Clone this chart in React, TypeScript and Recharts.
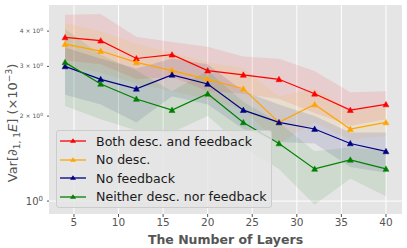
import { ComposedChart, Line, Area, XAxis, YAxis, CartesianGrid, Label } from 'recharts';

const layers = [4, 8, 12, 16, 20, 24, 28, 32, 36, 40];

const both = [3.8, 3.7, 3.2, 3.3, 2.9, 2.8, 2.7, 2.4, 2.1, 2.2];
const bothLow = [3.15, 3.05, 2.7, 2.75, 2.45, 2.4, 2.3, 2.05, 1.85, 1.95];
const bothHigh = [4.57, 4.6, 3.82, 3.66, 3.52, 3.25, 3.19, 2.89, 2.43, 2.45];

const noDesc = [3.6, 3.4, 3.1, 2.9, 2.7, 2.5, 1.9, 2.2, 1.8, 1.9];
const noDescLow = [3.0, 2.85, 2.6, 2.45, 2.3, 2.1, 1.6, 1.9, 1.65, 1.7];
const noDescHigh = [4.27, 4.0, 3.6, 3.35, 3.1, 2.95, 2.35, 2.5, 2.1, 2.15];

const noFeedback = [3.0, 2.7, 2.5, 2.8, 2.6, 2.1, 1.9, 1.8, 1.6, 1.5];
const noFeedbackLow = [2.38, 2.2, 1.9, 2.35, 2.2, 1.8, 1.62, 1.6, 1.32, 1.26];
const noFeedbackHigh = [3.5, 3.2, 2.95, 3.2, 3.05, 2.45, 2.2, 2.0, 1.75, 1.75];

const neither = [3.1, 2.6, 2.3, 2.1, 2.4, 1.9, 1.6, 1.3, 1.4, 1.3];
const neitherLow = [2.17, 1.95, 1.78, 1.75, 2.0, 1.55, 1.3, 0.97, 1.2, 1.04];
const neitherHigh = [4.07, 3.3, 2.9, 2.45, 2.9, 2.25, 1.9, 1.5, 1.55, 1.5];

const xTicks = [5, 10, 15, 20, 25, 30, 35, 40];
const yTicks = [1, 2, 3, 4];

const series = [
  { key: 'both', name: 'Both desc. and feedback', color: '#ff0000', mid: both, low: bothLow, high: bothHigh },
  { key: 'noDesc', name: 'No desc.', color: '#ffa500', mid: noDesc, low: noDescLow, high: noDescHigh },
  { key: 'noFeedback', name: 'No feedback', color: '#000080', mid: noFeedback, low: noFeedbackLow, high: noFeedbackHigh },
  { key: 'neither', name: 'Neither desc. nor feedback', color: '#008000', mid: neither, low: neitherLow, high: neitherHigh },
];

const data = layers.map((n, i) => {
  const row: any = { n };
  series.forEach((s) => {
    row[s.key] = s.mid[i];
    row[s.key + 'Band'] = [s.low[i], s.high[i]];
  });
  return row;
});

const FONT = '"DejaVu Sans", sans-serif';

const triangle = (color: string, r: number) => (props: any) => {
  const { cx, cy } = props;
  if (cx == null || cy == null) return <g />;
  return (
    <polygon
      points={`${cx},${cy - r} ${cx - r},${cy + r * 0.8} ${cx + r},${cy + r * 0.8}`}
      fill={color}
      stroke={color}
      strokeWidth={0.5}
    />
  );
};

const YTick = ({ x, y, payload }: any) => {
  const v = payload.value;
  if (v === 1) {
    return (
      <text x={x - 2} y={y + 3.5} textAnchor="end" fill="#555" fontSize={10} fontFamily={FONT}>
        10<tspan dy={-4} fontSize={7}>0</tspan>
      </text>
    );
  }
  return (
    <text x={x - 2} y={y + 2} textAnchor="end" fill="#555" fontSize={6} fontFamily={FONT}>
      {v} × 10<tspan dy={-2.5} fontSize={4.5}>0</tspan>
    </text>
  );
};

const YLabel = () => (
  <text
    x={0}
    y={0}
    transform="translate(17, 123) rotate(-90)"
    textAnchor="middle"
    fill="#555"
    fontSize={13}
    fontFamily={FONT}
  >
    Var[∂<tspan dy={3} fontSize={9}>1, 1</tspan>
    <tspan dy={-3} fontStyle="italic">E</tspan>] (×10<tspan dy={-5} fontSize={9}>−3</tspan>
    <tspan dy={5}>)</tspan>
  </text>
);

const LegendBox = () => (
  <div
    style={{
      position: 'absolute',
      left: 56,
      top: 130,
      width: 216,
      height: 78,
      boxSizing: 'border-box',
      background: 'rgba(229,229,229,0.8)',
      border: '1px solid #cccccc',
      borderRadius: 3,
      padding: '1px 1px',
      fontFamily: FONT,
      fontSize: 12.6,
      color: '#1a1a1a',
      whiteSpace: 'nowrap',
    }}
  >
    {series.map((s) => (
      <div key={s.key} style={{ display: 'flex', alignItems: 'center', height: 18.5 }}>
        <svg width={34} height={10} style={{ marginRight: 4, flexShrink: 0 }}>
          <line x1={2} y1={5} x2={28} y2={5} stroke={s.color} strokeWidth={1.3} />
          <polygon points="15,2.3 12,6.8 18,6.8" fill={s.color} />
        </svg>
        <span>{s.name}</span>
      </div>
    ))}
  </div>
);

export default function App() {
  return (
    <div style={{ position: 'absolute', left: 0, top: 0, width: 407, height: 248, background: '#fff' }}>
      <ComposedChart width={407} height={248} data={data} margin={{ top: 5, right: 5, left: 0, bottom: 0 }}>
        <CartesianGrid
          fill="#e5e5e5"
          stroke="#ffffff"
          strokeWidth={1}
          horizontalValues={[1]}
          verticalValues={xTicks}
        />
        <XAxis
          dataKey="n"
          type="number"
          domain={[2.2, 41.8]}
          ticks={xTicks}
          allowDataOverflow
          height={34}
          axisLine={false}
          tickLine={{ stroke: '#555' }}
          tickSize={3}
          tick={{ fill: '#555', fontSize: 10.5, fontFamily: FONT }}
        >
          <Label
            value="The Number of Layers"
            position="insideBottom"
            offset={4}
            fill="#555"
            fontSize={12.5}
            fontWeight="bold"
            fontFamily={FONT}
          />
        </XAxis>
        <YAxis
          type="number"
          scale="log"
          domain={[0.9, 4.95]}
          ticks={yTicks}
          allowDataOverflow
          width={49}
          axisLine={false}
          tickLine={{ stroke: '#555' }}
          tickSize={2}
          tick={<YTick />}
        >
          <Label content={<YLabel />} />
        </YAxis>
        {series.map((s) => (
          <Area
            key={s.key + 'Band'}
            type="linear"
            dataKey={s.key + 'Band'}
            stroke="none"
            fill={s.color}
            fillOpacity={0.1}
            isAnimationActive={false}
            legendType="none"
            activeDot={false}
          />
        ))}
        {series.map((s) => (
          <Line
            key={s.key}
            type="linear"
            dataKey={s.key}
            name={s.name}
            stroke={s.color}
            strokeWidth={1.2}
            dot={triangle(s.color, 3)}
            activeDot={false}
            isAnimationActive={false}
          />
        ))}
      </ComposedChart>
      <LegendBox />
    </div>
  );
}
